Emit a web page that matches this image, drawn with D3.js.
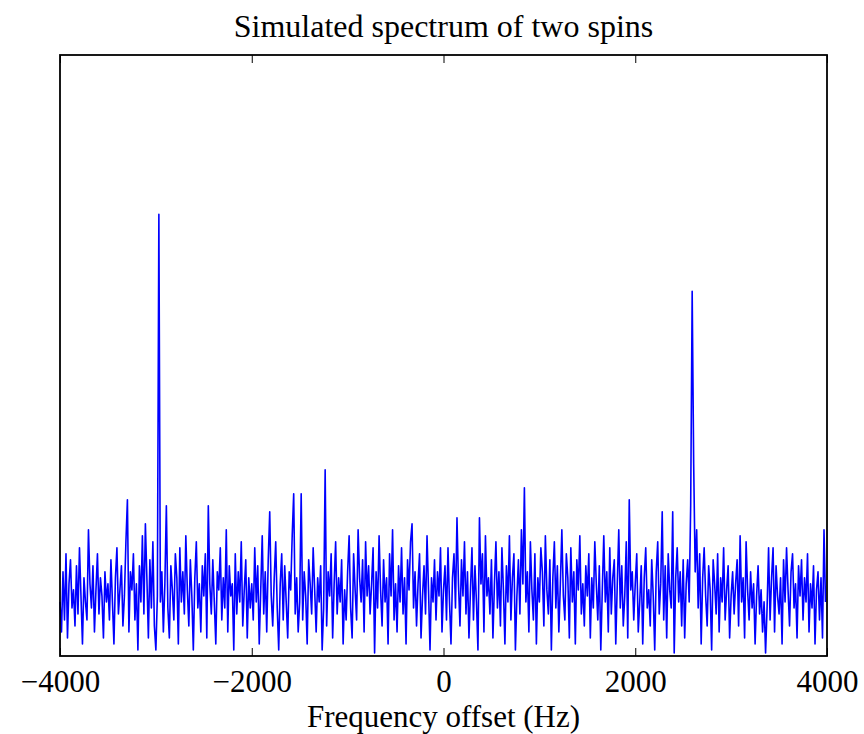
<!DOCTYPE html>
<html>
<head>
<meta charset="utf-8">
<script src="https://cdn.jsdelivr.net/npm/d3@7"></script>
<style>
  body { margin: 0; background: #fff; }
  svg text { font-family: "Liberation Serif", "Times New Roman", serif; fill: #000; }
</style>
</head>
<body>
<svg id="chart" width="864" height="734"></svg>
<script>
(function() {

// spectrum sampled at 512 points from -4000 Hz, step 15.625 Hz (arbitrary intensity units)
var f_start = -4000
var f_step = 15.625

var spectrum = [
    9,4,14,6,17,3,12,16,8,11,5,15,7,18,10,2,13,9,6,21,12,8,15,4,11,17,7,13,10,3,14,9,
    12,6,16,9,2,13,18,7,11,15,5,10,19,26,4,14,11,17,6,12,1,15,9,20,7,22,13,3,16,8,19,5,
    1,10,73.5,9,14,4,12,25,8,3,15,11,6,17,13,2,18,9,14,7,20,11,5,16,10,1,13,19,8,12,4,15,
    10,17,3,25,12,7,16,9,2,14,11,18,6,13,8,21,4,15,10,12,1,17,7,14,9,19,5,11,16,3,13,8,
    12,6,18,9,15,2,11,20,7,14,4,16,24,10,5,13,19,8,1,12,17,6,15,9,3,14,11,20,27,7,13,4,
    9,27,6,14,10,2,16,12,7,18,11,4,13,9,15,1,8,31,5,14,10,17,3,12,19,7,13,9,16,2,11,6,
    14,20,8,3,17,11,6,21,13,9,16,4,19,10,15,7,12,18,0.5,14,8,20,11,5,16,9,13,2,17,10,21,6,
    12,4,15,9,18,7,13,2,16,11,19,22,8,14,5,12,17,3,10,15,7,20,11,1,13,9,16,6,14,10,18,4,
    11,15,6,18,9,2,13,17,8,23,12,5,16,10,19,7,14,3,11,18,6,15,9,1,23,12,17,4,20,10,13,7,
    16,3,12,19,8,14,5,18,11,2,15,9,20,6,13,17,1,10,16,7,21,12,28,9,14,4,19,11,6,17,2,13,
    9,18,14,5,20,11,7,16,1,13,19,8,15,4,12,21,10,6,17,13,3,18,9,14,2,16,11,20,7,12,5,15,
    10,17,3,13,8,19,12,6,15,1,11,20,9,14,4,18,7,13,16,2,12,21,8,15,5,10,19,3,26,11,14,6,
    12,17,4,9,15,2,13,18,8,11,5,16,10,1,14,19,7,12,24,6,15,3,17,11,8,24,0.5,13,18,9,14,5,
    16,3,12,16,9,25,60.7,32,14,21,8,17,2,13,18,10,5,15,11,1,16,12,7,17,4,13,9,18,6,11,15,3,
    10,14,7,12,16,5,20,9,13,3,19,11,6,14,8,12,2,10,15,7,11,4,9,0.5,8,18,6,13,18,4,15,10,
    7,13,2,16,9,18,11,5,14,17,8,12,3,15,10,16,6,13,9,17,4,12,8,15,2,11,14,6,13,3,21,9
]

var x_domain = [-4000, 4000]
var y_domain = [0, 100]
var x_ticks = [-4000, -2000, 0, 2000, 4000]

var title = "Simulated spectrum of two spins"
var x_label = "Frequency offset (Hz)"

var margin = {left: 60, right: 37, top: 55, bottom: 78}
var width = 864
var height = 734

var svg = d3.select("#chart")

var x = d3.scaleLinear()
    .domain(x_domain)
    .range([margin.left, width - margin.right])

var y = d3.scaleLinear()
    .domain(y_domain)
    .range([height - margin.bottom, margin.top])

var points = spectrum.map((v, i) => ({f: f_start + i * f_step, v: v}))

var line = d3.line()
    .x(d => x(d.f))
    .y(d => y(d.v))

svg.append("path")
    .datum(points)
    .attr("fill", "none")
    .attr("stroke", "#0000ff")
    .attr("stroke-width", 1.6)
    .attr("stroke-linejoin", "round")
    .attr("d", line)

// ticks point inward, like matlab
var bottom_axis = d3.axisBottom(x)
    .tickValues(x_ticks)
    .tickSizeInner(-8)
    .tickSizeOuter(0)
    .tickPadding(14)
    .tickFormat(d3.format("d"))

var top_axis = d3.axisTop(x)
    .tickValues(x_ticks)
    .tickSizeInner(-8)
    .tickSizeOuter(0)
    .tickFormat("")

var gb = svg.append("g")
    .attr("transform", `translate(0,${height - margin.bottom})`)
    .call(bottom_axis)
gb.select(".domain").remove()
gb.selectAll("line").attr("stroke", "#000").attr("stroke-width", 1)
gb.selectAll("text")
    .attr("font-size", 31)
    .attr("font-family", "Liberation Serif")
    .attr("fill", "#000")

var gt = svg.append("g")
    .attr("transform", `translate(0,${margin.top})`)
    .call(top_axis)
gt.select(".domain").remove()
gt.selectAll("line").attr("stroke", "#000").attr("stroke-width", 1)

svg.append("rect")
    .attr("x", margin.left)
    .attr("y", margin.top)
    .attr("width", width - margin.left - margin.right)
    .attr("height", height - margin.top - margin.bottom)
    .attr("fill", "none")
    .attr("stroke", "#000")
    .attr("stroke-width", 1.8)

svg.append("text")
    .attr("x", (margin.left + width - margin.right) / 2)
    .attr("y", 37)
    .attr("text-anchor", "middle")
    .attr("font-size", 32)
    .text(title)

svg.append("text")
    .attr("x", (margin.left + width - margin.right) / 2)
    .attr("y", 727)
    .attr("text-anchor", "middle")
    .attr("font-size", 31)
    .text(x_label)

})()
</script>
</body>
</html>
